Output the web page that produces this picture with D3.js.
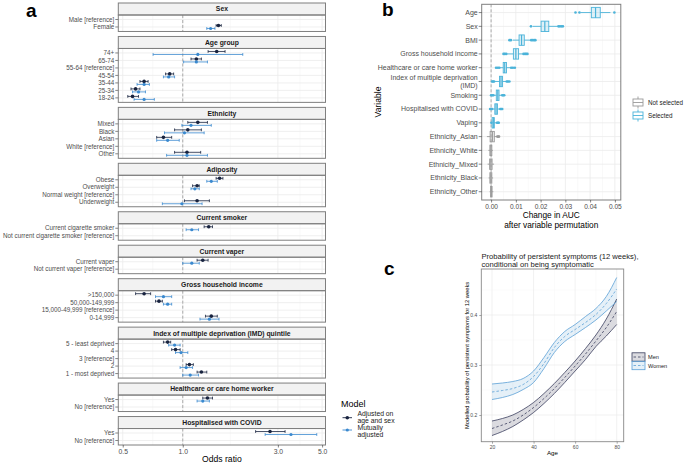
<!DOCTYPE html>
<html><head><meta charset="utf-8">
<script src="https://cdn.jsdelivr.net/npm/d3@7"></script>
<style>body{margin:0;background:#fff} svg{display:block;font-family:"Liberation Sans",Arial,sans-serif}</style>
</head><body><svg id="c" width="685" height="463"></svg>
<script>
// ---------- Panel a data ----------
const facetTitles = ["Sex","Age group","Ethnicity","Adiposity","Current smoker","Current vaper","Gross household income","Index of multiple deprivation (IMD) quintile","Healthcare or care home worker","Hospitalised with COVID"];
const facetSizes = [2,7,5,4,2,2,4,5,2,2];
const termLabels = ["Male [reference]","Female",
 "74+","65-74","55-64 [reference]","45-54","35-44","25-34","18-24",
 "Mixed","Black","Asian","White [reference]","Other",
 "Obese","Overweight","Normal weight [reference]","Underweight",
 "Current cigarette smoker","Not current cigarette smoker [reference]",
 "Current vaper","Not current vaper [reference]",
 ">150,000","50,000-149,999","15,000-49,999 [reference]","0-14,999",
 "5 - least deprived","4","3 [reference]","2","1 - most deprived",
 "Yes","No [reference]",
 "Yes","No [reference]"];
const orAgeSex = [null,1.51, 1.48,1.17,null,0.86,0.64,0.58,0.56, 1.19,1.06,0.80,null,1.05, 1.53,1.18,null,1.18, 1.35,null, 1.26,null, 0.64,0.76,null,1.39, 0.84,0.92,null,1.08,1.24, 1.33,null, 2.74,null];
const loAgeSex = [null,1.47, 1.34,1.10,null,0.82,0.61,0.55,0.53, 1.06,0.91,0.74,null,0.91, 1.47,1.12,null,1.02, 1.28,null, 1.18,null, 0.58,0.73,null,1.30, 0.80,0.88,null,1.04,1.18, 1.26,null, 2.32,null];
const hiAgeSex = [null,1.56, 1.63,1.24,null,0.90,0.67,0.61,0.60, 1.33,1.24,0.88,null,1.23, 1.59,1.21,null,1.36, 1.41,null, 1.34,null, 0.69,0.79,null,1.49, 0.87,0.97,null,1.13,1.32, 1.41,null, 3.26,null];
const orMutual = [null,1.38, 1.19,1.17,null,0.85,0.64,0.60,0.64, 1.10,1.02,0.84,null,1.05, 1.39,1.15,null,0.99, 1.11,null, 1.11,null, 0.80,0.84,null,1.36, 0.91,0.98,null,1.04,1.09, 1.26,null, 3.49,null];
const loMutual = [null,1.32, 0.71,1.01,null,0.80,0.59,0.56,0.57, 0.99,0.81,0.74,null,0.83, 1.32,1.10,null,0.79, 1.04,null, 1.00,null, 0.73,0.80,null,1.22, 0.85,0.92,null,0.97,1.00, 1.18,null, 2.59,null];
const hiMutual = [null,1.45, 2.00,1.33,null,0.91,0.68,0.65,0.72, 1.39,1.28,0.96,null,1.33, 1.49,1.21,null,1.25, 1.20,null, 1.21,null, 0.88,0.88,null,1.52, 0.97,1.06,null,1.12,1.20, 1.36,null, 4.70,null];
const orTicks = [0.5,1,3,5];
const modelNames = ["Adjusted on|age and sex","Mutually|adjusted"];

// ---------- Panel b data ----------
const aucVars = ["Age","Sex","BMI","Gross household income","Healthcare or care home worker","Index of multiple deprivation|(IMD)","Smoking","Hospitalised with COVID","Vaping","Ethnicity_Asian","Ethnicity_White","Ethnicity_Mixed","Ethnicity_Black","Ethnicity_Other"];
const aucSelected = [1,1,1,1,1,1,1,1,1,0,0,0,0,0];
const aucQ1 = [0.0405,0.0202,0.0113,0.0090,0.0049,0.0034,0.0021,0.0015,0.0004,-0.0004,-0.0005,-0.0006,-0.0005,-0.0002];
const aucMed = [0.0422,0.0217,0.0123,0.0100,0.0055,0.0040,0.0027,0.0020,0.0009,0.0005,-0.0001,-0.0001,-0.0001,0.0001];
const aucQ3 = [0.0441,0.0233,0.0134,0.0111,0.0062,0.0046,0.0032,0.0026,0.0013,0.0013,0.0003,0.0004,0.0003,0.0004];
const aucLo = [0.0362,0.0168,0.0088,0.0064,0.0035,0.0016,0.0010,0.0005,0.0002,-0.0017,-0.0011,-0.0014,-0.0010,-0.0006];
const aucHi = [0.0482,0.0268,0.0159,0.0129,0.0078,0.0062,0.0044,0.0035,0.0022,0.0021,0.0007,0.0012,0.0008,0.0009];
const aucOutliers = [[0.0341,0.0357,0.0498],[0.0161,0.0272,0.0278,0.0284,0.0290],[0.0074,0.0080,0.0162,0.0168,0.0174,0.0179],[0.0050,0.0055,0.0061,0.0131,0.0137,0.0142,0.0147],[0.0020,0.0027,0.0033,0.0081,0.0088,0.0096],[0.0004,0.0008,0.0012,0.0063,0.0068,0.0074],[0.0000,0.0005,0.0009,0.0045,0.0049,0.0053],[-0.0004,0.0000,0.0004,0.0037,0.0041,0.0045],[0.0001,0.0024,0.0028,0.0031],[0.0025,0.0029,0.0032],[],[],[],[]];
const aucTicks = [0,0.01,0.02,0.03,0.04,0.05];

// ---------- Panel c data ----------
const ages = [20,25,30,35,40,45,50,55,60,65,70,75,80];
const womenFit = [0.246,0.249,0.253,0.261,0.277,0.303,0.335,0.357,0.371,0.385,0.401,0.423,0.452];
const womenUpper = [0.262,0.264,0.267,0.273,0.288,0.315,0.345,0.367,0.381,0.397,0.413,0.437,0.475];
const womenLower = [0.231,0.235,0.241,0.251,0.265,0.293,0.325,0.347,0.361,0.375,0.390,0.408,0.427];
const menFit = [0.173,0.180,0.188,0.200,0.215,0.233,0.253,0.275,0.298,0.322,0.348,0.375,0.407];
const menUpper = [0.188,0.193,0.200,0.211,0.225,0.243,0.263,0.285,0.308,0.333,0.360,0.392,0.432];
const menLower = [0.159,0.167,0.177,0.190,0.205,0.223,0.243,0.265,0.288,0.311,0.337,0.358,0.381];
const ageTicks = [20,40,60,80];
const probTicks = [0.2,0.3,0.4];

// ---------- drawing ----------
const svg = d3.select("#c");
svg.append("rect").attr("width",685).attr("height",463).attr("fill","#fff");
const cDark = "#18233f", cBlue = "#3a89cf", gridC = "#ebebeb", borderC = "#7f7f7f", axTxt = "#4d4d4d";

// ===== Panel a =====
const A = {x0:118.3, x1:325.5, top:3, bottom:445, strip:12, gap:5};
const xA = d3.scaleLog().domain([0.475,5.2]).range([A.x0,A.x1]);
const totalUnits = d3.sum(facetSizes, n => n + 0.2);
const unit = (A.bottom - A.top - facetSizes.length*A.strip - (facetSizes.length-1)*A.gap)/totalUnits;
const gA = svg.append("g");
let yCur = A.top, idx = 0;
const minorA = [Math.sqrt(0.5*1), Math.sqrt(1*3), Math.sqrt(3*5)];
facetTitles.forEach((title, f) => {
  const n = facetSizes[f];
  const st = yCur, pt = st + A.strip, ph = (n + 0.2)*unit, pb = pt + ph;
  const rows = d3.range(idx, idx+n);
  const yRow = d3.scalePoint().domain(rows).range([pt, pb]).padding(0.6);
  const g = gA.append("g");
  minorA.forEach(v => g.append("line").attr("x1",xA(v)).attr("x2",xA(v)).attr("y1",pt).attr("y2",pb).attr("stroke","#f2f2f2").attr("stroke-width",0.5));
  orTicks.forEach(v => g.append("line").attr("x1",xA(v)).attr("x2",xA(v)).attr("y1",pt).attr("y2",pb).attr("stroke",gridC).attr("stroke-width",0.8));
  rows.forEach(r => g.append("line").attr("x1",A.x0).attr("x2",A.x1).attr("y1",yRow(r)).attr("y2",yRow(r)).attr("stroke",gridC).attr("stroke-width",0.8));
  g.append("line").attr("x1",xA(1)).attr("x2",xA(1)).attr("y1",pt).attr("y2",pb).attr("stroke","#999").attr("stroke-width",0.8).attr("stroke-dasharray","3,2");
  g.append("rect").attr("x",A.x0).attr("y",st).attr("width",A.x1-A.x0).attr("height",A.strip).attr("fill","#f2f2f2").attr("stroke",borderC).attr("stroke-width",1);
  g.append("text").attr("x",(A.x0+A.x1)/2).attr("y",st+A.strip/2+2.4).attr("text-anchor","middle").attr("font-size",6.8).attr("font-weight","bold").attr("fill","#1a1a1a").text(title);
  rows.forEach(r => {
    g.append("line").attr("x1",A.x0-3).attr("x2",A.x0).attr("y1",yRow(r)).attr("y2",yRow(r)).attr("stroke","#333").attr("stroke-width",0.6);
    g.append("text").attr("x",A.x0-4).attr("y",yRow(r)+2.2).attr("text-anchor","end").attr("font-size",6.3).attr("fill",axTxt).text(termLabels[r]);
  });
  const models = [
    {est:orAgeSex, lo:loAgeSex, hi:hiAgeSex, col:cDark, dy:-1.5, r:1.8},
    {est:orMutual, lo:loMutual, hi:hiMutual, col:cBlue, dy:1.5, r:1.6}
  ];
  models.forEach(m => {
    rows.forEach(r => {
      if (m.est[r] == null) return;
      const y = yRow(r) + m.dy;
      g.append("line").attr("x1",xA(m.lo[r])).attr("x2",xA(m.hi[r])).attr("y1",y).attr("y2",y).attr("stroke",m.col).attr("stroke-width",0.8);
      [m.lo[r], m.hi[r]].forEach(v => g.append("line").attr("x1",xA(v)).attr("x2",xA(v)).attr("y1",y-1.4).attr("y2",y+1.4).attr("stroke",m.col).attr("stroke-width",0.8));
      g.append("circle").attr("cx",xA(m.est[r])).attr("cy",y).attr("r",m.r).attr("fill",m.col);
    });
  });
  g.append("rect").attr("x",A.x0).attr("y",pt).attr("width",A.x1-A.x0).attr("height",ph).attr("fill","none").attr("stroke",borderC).attr("stroke-width",1);
  idx += n;
  yCur = pb + A.gap;
  if (f === facetTitles.length-1) {
    const ax = gA.append("g").attr("transform",`translate(0,${pb})`).call(d3.axisBottom(xA).tickValues(orTicks).tickFormat(d3.format(".1f")).tickSize(2.5).tickPadding(1.5));
    ax.select(".domain").remove();
    ax.selectAll("line").attr("stroke","#333").attr("stroke-width",0.6);
    ax.selectAll("text").attr("font-size",6.8).attr("fill",axTxt).attr("font-family","Liberation Sans, Arial, sans-serif");
    gA.append("text").attr("x",(A.x0+A.x1)/2).attr("y",461.5).attr("text-anchor","middle").attr("font-size",8.6).attr("fill","#000").text("Odds ratio");
  }
});
svg.append("text").attr("x",26).attr("y",17).attr("font-size",19).attr("font-weight","bold").text("a");
// legend a
const legA = svg.append("g");
legA.append("text").attr("x",341).attr("y",406.5).attr("font-size",9).attr("fill","#000").text("Model");
[[cDark,417.7,1.8],[cBlue,430,1.6]].forEach((d,i) => {
  legA.append("line").attr("x1",342.5).attr("x2",352).attr("y1",d[1]).attr("y2",d[1]).attr("stroke",d[0]).attr("stroke-width",0.9);
  legA.append("circle").attr("cx",347.3).attr("cy",d[1]).attr("r",d[2]).attr("fill",d[0]);
  const parts = modelNames[i].split("|");
  parts.forEach((p,j) => legA.append("text").attr("x",357.5).attr("y",(i===0?416:430)+j*6.6).attr("font-size",6.8).attr("fill","#1a1a1a").text(p));
});

// ===== Panel b =====
const B = {x0:481.7, x1:620.8, y0:4.3, y1:200};
const xB = d3.scaleLinear().domain([-0.0038,0.0524]).range([B.x0,B.x1]);
const yB = d3.scalePoint().domain(aucVars).range([B.y0,B.y1]).padding(0.6);
const gB = svg.append("g");
d3.range(0, 0.0525, 0.005).forEach((v,i) => {
  const major = i % 2 === 0;
  gB.append("line").attr("x1",xB(v)).attr("x2",xB(v)).attr("y1",B.y0).attr("y2",B.y1).attr("stroke",major?gridC:"#f3f3f3").attr("stroke-width",major?0.8:0.5);
});
aucVars.forEach(v => gB.append("line").attr("x1",B.x0).attr("x2",B.x1).attr("y1",yB(v)).attr("y2",yB(v)).attr("stroke",gridC).attr("stroke-width",0.8));
gB.append("line").attr("x1",xB(0)).attr("x2",xB(0)).attr("y1",B.y0).attr("y2",B.y1).attr("stroke","#999").attr("stroke-width",0.8).attr("stroke-dasharray","3,2");
const selC = "#4bb3d9", notC = "#9a9a9a";
const bw = 10.4;
aucVars.forEach((v,i) => {
  const col = aucSelected[i] ? selC : notC;
  const y = yB(v);
  const g = gB.append("g");
  g.append("line").attr("x1",xB(aucLo[i])).attr("x2",xB(aucQ1[i])).attr("y1",y).attr("y2",y).attr("stroke",col).attr("stroke-width",0.9);
  g.append("line").attr("x1",xB(aucQ3[i])).attr("x2",xB(aucHi[i])).attr("y1",y).attr("y2",y).attr("stroke",col).attr("stroke-width",0.9);
  g.append("rect").attr("x",xB(aucQ1[i])).attr("y",y-bw/2).attr("width",Math.max(0.5,xB(aucQ3[i])-xB(aucQ1[i]))).attr("height",bw)
    .attr("fill",col).attr("fill-opacity",0.18).attr("stroke",col).attr("stroke-width",0.9);
  g.append("line").attr("x1",xB(aucMed[i])).attr("x2",xB(aucMed[i])).attr("y1",y-bw/2).attr("y2",y+bw/2).attr("stroke",col).attr("stroke-width",1.2);
  aucOutliers[i].forEach(o => g.append("circle").attr("cx",xB(o)).attr("cy",y).attr("r",1.3).attr("fill",col));
});
gB.append("rect").attr("x",B.x0).attr("y",B.y0).attr("width",B.x1-B.x0).attr("height",B.y1-B.y0).attr("fill","none").attr("stroke",borderC).attr("stroke-width",1);
const axBx = gB.append("g").attr("transform",`translate(0,${B.y1})`).call(d3.axisBottom(xB).tickValues(aucTicks).tickFormat(d3.format(".2f")).tickSize(2.5).tickPadding(1.5));
axBx.select(".domain").remove();
axBx.selectAll("line").attr("stroke","#333").attr("stroke-width",0.6);
axBx.selectAll("text").attr("font-size",6.6).attr("fill",axTxt).attr("font-family","Liberation Sans, Arial, sans-serif");
aucVars.forEach(v => {
  const y = yB(v);
  gB.append("line").attr("x1",B.x0-3).attr("x2",B.x0).attr("y1",y).attr("y2",y).attr("stroke","#333").attr("stroke-width",0.6);
  const parts = v.split("|");
  parts.forEach((p,j) => gB.append("text").attr("x",B.x0-4).attr("y",y+2.4+(j-(parts.length-1)/2)*8).attr("text-anchor","end").attr("font-size",7).attr("fill",axTxt).text(p));
});
gB.append("text").attr("x",(B.x0+B.x1)/2).attr("y",218).attr("text-anchor","middle").attr("font-size",8.3).text("Change in AUC");
gB.append("text").attr("x",(B.x0+B.x1)/2).attr("y",227.5).attr("text-anchor","middle").attr("font-size",8.3).text("after variable permutation");
gB.append("text").attr("transform","translate(381,102) rotate(-90)").attr("text-anchor","middle").attr("font-size",8.6).text("Variable");
svg.append("text").attr("x",382).attr("y",16).attr("font-size",19).attr("font-weight","bold").text("b");
// legend b
[["Not selected",notC,102.5],["Selected",selC,115.5]].forEach(d => {
  const g = svg.append("g");
  const cx = 638, y = d[2];
  g.append("line").attr("x1",cx).attr("x2",cx).attr("y1",y-6).attr("y2",y+6).attr("stroke",d[1]).attr("stroke-width",0.9);
  g.append("rect").attr("x",cx-5).attr("y",y-3.5).attr("width",10).attr("height",7).attr("fill","#fff").attr("stroke",d[1]).attr("stroke-width",0.9);
  g.append("line").attr("x1",cx-5).attr("x2",cx+5).attr("y1",y).attr("y2",y).attr("stroke",d[1]).attr("stroke-width",0.9);
  g.append("text").attr("x",648).attr("y",y+2.3).attr("font-size",6.3).attr("fill","#1a1a1a").text(d[0]);
});

// ===== Panel c =====
const C = {x0:481.3, x1:623.7, y0:269, y1:441.7};
const xC = d3.scaleLinear().domain([14.85,83.37]).range([C.x0,C.x1]);
const yC = d3.scaleLinear().domain([0.1466,0.492]).range([C.y1,C.y0]);
const gC = svg.append("g");
[30,50,70].forEach(v => gC.append("line").attr("x1",xC(v)).attr("x2",xC(v)).attr("y1",C.y0).attr("y2",C.y1).attr("stroke","#f4f4f4").attr("stroke-width",0.5));
[0.15,0.25,0.35,0.45].forEach(v => gC.append("line").attr("x1",C.x0).attr("x2",C.x1).attr("y1",yC(v)).attr("y2",yC(v)).attr("stroke","#f4f4f4").attr("stroke-width",0.5));
ageTicks.forEach(v => gC.append("line").attr("x1",xC(v)).attr("x2",xC(v)).attr("y1",C.y0).attr("y2",C.y1).attr("stroke",gridC).attr("stroke-width",0.7));
probTicks.forEach(v => gC.append("line").attr("x1",C.x0).attr("x2",C.x1).attr("y1",yC(v)).attr("y2",yC(v)).attr("stroke",gridC).attr("stroke-width",0.7));
const curve = d3.curveMonotoneX;
const series = [
  {fit:menFit, up:menUpper, lo:menLower, line:"#3b3f5e", fill:"#5a5d72", op:0.22},
  {fit:womenFit, up:womenUpper, lo:womenLower, line:"#5b9fd6", fill:"#7fb2de", op:0.2}
];
series.forEach(s => {
  const area = d3.area().x((d,i)=>xC(ages[i])).y0((d,i)=>yC(s.lo[i])).y1((d,i)=>yC(s.up[i])).curve(curve);
  gC.append("path").attr("d",area(ages)).attr("fill",s.fill).attr("fill-opacity",s.op);
});
series.forEach(s => {
  [s.up, s.lo].forEach(arr => {
    const ln = d3.line().x((d,i)=>xC(ages[i])).y((d,i)=>yC(arr[i])).curve(curve);
    gC.append("path").attr("d",ln(ages)).attr("fill","none").attr("stroke",s.line).attr("stroke-width",0.8);
  });
  const ln = d3.line().x((d,i)=>xC(ages[i])).y((d,i)=>yC(s.fit[i])).curve(curve);
  gC.append("path").attr("d",ln(ages)).attr("fill","none").attr("stroke",s.line).attr("stroke-width",0.8).attr("stroke-dasharray","2.5,2");
});
gC.append("rect").attr("x",C.x0).attr("y",C.y0).attr("width",C.x1-C.x0).attr("height",C.y1-C.y0).attr("fill","none").attr("stroke","#888").attr("stroke-width",0.9);
const axCx = gC.append("g").attr("transform",`translate(0,${C.y1})`).call(d3.axisBottom(xC).tickValues(ageTicks).tickSize(2).tickPadding(2));
axCx.select(".domain").remove();
axCx.selectAll("line").attr("stroke","#555").attr("stroke-width",0.5);
axCx.selectAll("text").attr("font-size",5).attr("fill",axTxt).attr("font-family","Liberation Sans, Arial, sans-serif");
const axCy = gC.append("g").attr("transform",`translate(${C.x0},0)`).call(d3.axisLeft(yC).tickValues(probTicks).tickFormat(d3.format(".1f")).tickSize(2).tickPadding(2));
axCy.select(".domain").remove();
axCy.selectAll("line").attr("stroke","#555").attr("stroke-width",0.5);
axCy.selectAll("text").attr("font-size",5).attr("fill",axTxt).attr("font-family","Liberation Sans, Arial, sans-serif");
gC.append("text").attr("x",(C.x0+C.x1)/2).attr("y",455).attr("text-anchor","middle").attr("font-size",6.2).text("Age");
gC.append("text").attr("transform",`translate(469,${(C.y0+C.y1)/2}) rotate(-90)`).attr("text-anchor","middle").attr("font-size",5.8).text("Modelled probability of persistent symptoms for 12 weeks");
gC.append("text").attr("x",481.5).attr("y",258.5).attr("font-size",7.6).attr("fill","#1a1a1a").text("Probability of persistent symptoms (12 weeks),");
gC.append("text").attr("x",481.5).attr("y",267).attr("font-size",7.6).attr("fill","#1a1a1a").text("conditional on being symptomatic");
svg.append("text").attr("x",384).attr("y",275).attr("font-size",19).attr("font-weight","bold").text("c");
// legend c
[["Men",series[0],357],["Women",series[1],365.5]].forEach(d => {
  const g = svg.append("g"), y = d[2], s = d[1];
  g.append("rect").attr("x",632).attr("y",y-4.2).attr("width",13).attr("height",8.4).attr("fill",s.fill).attr("fill-opacity",s.op).attr("stroke",s.line).attr("stroke-width",0.8);
  g.append("line").attr("x1",633.5).attr("x2",643.5).attr("y1",y).attr("y2",y).attr("stroke",s.line).attr("stroke-width",0.8).attr("stroke-dasharray","2.5,2");
  g.append("text").attr("x",648).attr("y",y+2).attr("font-size",5.6).attr("fill","#1a1a1a").text(d[0]);
});
</script></body></html>
